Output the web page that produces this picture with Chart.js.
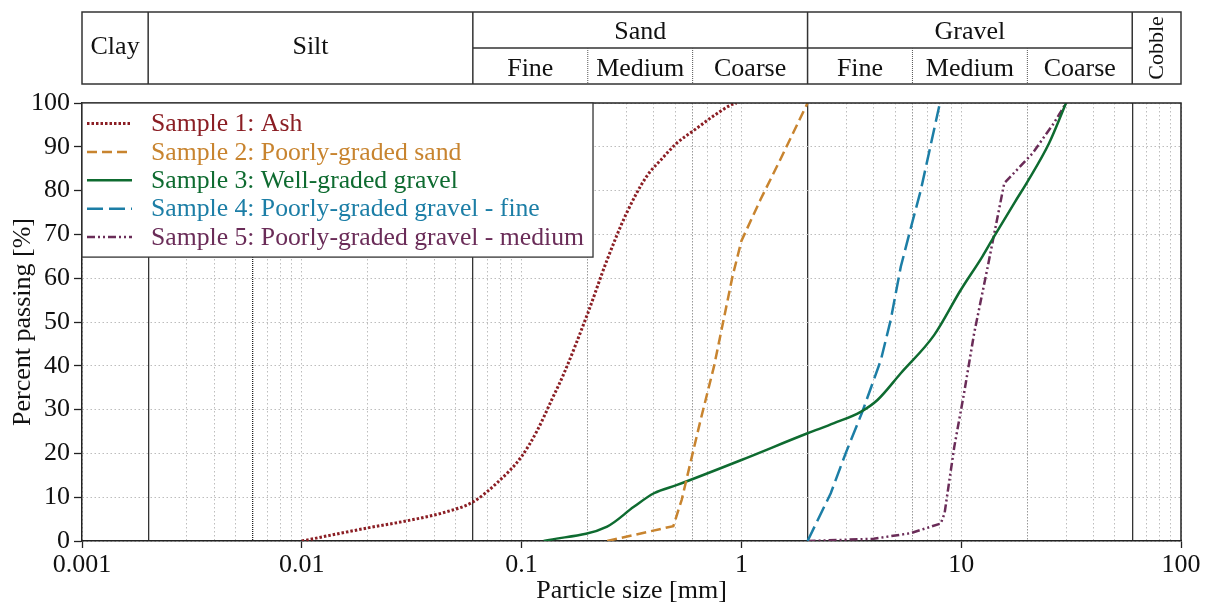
<!DOCTYPE html>
<html>
<head>
<meta charset="utf-8">
<script src="https://cdn.jsdelivr.net/npm/chart.js@4.4.1/dist/chart.umd.min.js"></script>
<style>
  html, body { margin: 0; padding: 0; background: #fff; }
  canvas { display: block; }
</style>
</head>
<body>
<canvas id="chart" width="1209" height="602"></canvas>
<script>
// axis ticks
const xTickValues = [0.001, 0.01, 0.1, 1, 10, 100];
const xTickLabels = ['0.001', '0.01', '0.1', '1', '10', '100'];

// grading curves (particle size in mm, percent passing)
const ashSize = [0.01, 0.02, 0.03, 0.045, 0.06, 0.077, 0.1, 0.118, 0.137, 0.156, 0.2, 0.245, 0.3, 0.37, 0.43, 0.51, 0.61, 0.74, 0.9, 0.95];
const ashPassing = [0, 3, 4.6, 6.6, 8.9, 13.2, 19.3, 25.3, 32.2, 38.3, 52, 64.2, 74.8, 83.2, 87, 90.9, 93.8, 96.9, 99.6, 100];

const sandSize = [0.245, 0.49, 0.535, 0.6, 0.652, 0.75, 0.83, 0.91, 1.0, 1.22, 1.5, 2.0];
const sandPassing = [0, 3.4, 9.4, 20, 27.6, 39.8, 50.5, 60.3, 68.5, 77.9, 87, 100];

const wellSize = [0.126, 0.245, 0.324, 0.4, 0.51, 1.0, 2.0, 2.64, 3.49, 4.16, 5.31, 7.53, 9.95, 12.5, 14.1, 17.6, 20, 25.1, 30];
const wellPassing = [0, 3.3, 7.8, 10.9, 12.8, 18.5, 24.6, 26.9, 29.5, 32.2, 38.3, 47, 57.3, 65, 69.5, 77.5, 82, 90.8, 100];

const fineSize = [2, 2.55, 2.98, 3.55, 4.31, 4.78, 5.31, 6.0, 6.55, 8.0];
const finePassing = [0, 10.9, 20, 29.5, 41.3, 50.5, 62.6, 72.9, 80.1, 100];

const mediumSize = [2, 4, 5.9, 8.07, 8.4, 9.3, 10.3, 11.45, 13.2, 14.1, 15.7, 17.6, 21.1, 26.4, 30];
const mediumPassing = [0, 0.5, 1.8, 4.0, 6.3, 21.5, 33.7, 47.4, 62.6, 69.9, 81.7, 84.3, 88.5, 95.4, 100];

const sampleLabels = [
  'Sample 1: Ash',
  'Sample 2: Poorly-graded sand',
  'Sample 3: Well-graded gravel',
  'Sample 4: Poorly-graded gravel - fine',
  'Sample 5: Poorly-graded gravel - medium'
];
const sampleColors = ['#8b1e24', '#c8842f', '#0e6b30', '#1c7ea6', '#6a2c58'];

// soil classification header
const soilGroups = ['Clay', 'Silt', 'Sand', 'Gravel', 'Cobble'];
const soilBounds = [0.001, 0.002, 0.06, 2, 60, 100];
const subLabels = ['Fine', 'Medium', 'Coarse'];
const sandBounds = [0.06, 0.2, 0.6, 2];
const gravelBounds = [2, 6, 20, 60];

const FONT = '"Liberation Serif", "Times New Roman", serif';
const FS = 26;
Chart.defaults.font.family = FONT;
Chart.defaults.color = '#111';

function toPoints(sizes, passing) {
    return sizes.map((s, i) => ({ x: s, y: passing[i] }));
}

function isAt(v, list) {
    return list.some(b => Math.abs(Math.log10(v) - Math.log10(b)) < 1e-4);
}

// every 1..9 x 10^k line of the log grid
const xGridValues = [];
for (let e = -3; e <= 1; ++e) {
    for (let m = 1; m <= 9; ++m) {
        xGridValues.push(Number((m * Math.pow(10, e)).toPrecision(3)));
    }
}
xGridValues.push(100);

const mainBounds = [0.002, 0.06, 2, 60];
const subBounds = [0.2, 0.6, 6, 20];

function gridKind(ctx) {
    const v = ctx.tick && ctx.tick.value;
    if (!v) return 'minor';
    if (isAt(v, mainBounds)) return 'main';
    if (isAt(v, [0.006])) return 'silt';
    if (isAt(v, subBounds)) return 'sub';
    return 'minor';
}

const framePlugin = {
    id: 'frame',
    afterDatasetsDraw(chart) {
        const { ctx, chartArea: a } = chart;
        ctx.save();
        ctx.strokeStyle = '#222';
        ctx.lineWidth = 1.5;
        ctx.beginPath();
        ctx.moveTo(a.left, a.top);
        ctx.lineTo(a.right, a.top);
        ctx.lineTo(a.right, a.bottom);
        ctx.stroke();
        ctx.restore();
    }
};

const legendPanel = {
    id: 'legendPanel',
    afterDraw(chart) {
        const { ctx, chartArea: a } = chart;
        const sets = chart.data.datasets;
        const rowH = 28.4;
        const firstRow = a.top + 20.5;
        const textX = a.left + 69;
        ctx.save();
        ctx.font = '25.7px ' + FONT;
        let maxW = 0;
        sets.forEach(ds => { maxW = Math.max(maxW, ctx.measureText(ds.label).width); });
        const right = textX + maxW + 9;
        const bottom = firstRow + rowH * (sets.length - 1) + 20;
        ctx.fillStyle = '#fff';
        ctx.fillRect(a.left, a.top, right - a.left, bottom - a.top);
        ctx.strokeStyle = '#333';
        ctx.lineWidth = 1.3;
        ctx.strokeRect(a.left, a.top, right - a.left, bottom - a.top);
        sets.forEach((ds, i) => {
            const y = firstRow + i * rowH;
            ctx.setLineDash(ds.borderDash || []);
            ctx.strokeStyle = ds.borderColor;
            ctx.lineWidth = ds.borderWidth;
            ctx.beginPath();
            ctx.moveTo(a.left + 5, y);
            ctx.lineTo(a.left + 50, y);
            ctx.stroke();
            ctx.setLineDash([]);
            ctx.fillStyle = ds.borderColor;
            ctx.textBaseline = 'middle';
            ctx.textAlign = 'left';
            ctx.fillText(ds.label, textX, y + 1);
        });
        ctx.restore();
    }
};

const soilHeader = {
    id: 'soilHeader',
    afterDraw(chart) {
        const ctx = chart.ctx;
        const sx = chart.scales.x;
        const px = v => sx.getPixelForValue(v);
        const top = 12, mid = 48, bottom = 84;
        ctx.save();
        ctx.strokeStyle = '#333';
        ctx.lineWidth = 1.5;
        ctx.strokeRect(px(soilBounds[0]), top, px(soilBounds[soilBounds.length - 1]) - px(soilBounds[0]), bottom - top);
        ctx.beginPath();
        soilBounds.slice(1, -1).forEach(b => {
            ctx.moveTo(px(b), top);
            ctx.lineTo(px(b), bottom);
        });
        ctx.moveTo(px(0.06), mid);
        ctx.lineTo(px(60), mid);
        ctx.stroke();

        ctx.setLineDash([1, 1]);
        ctx.lineWidth = 1;
        ctx.strokeStyle = '#555';
        ctx.beginPath();
        [sandBounds, gravelBounds].forEach(bs => {
            bs.slice(1, -1).forEach(b => {
                ctx.moveTo(px(b), mid);
                ctx.lineTo(px(b), bottom);
            });
        });
        ctx.stroke();
        ctx.setLineDash([]);

        ctx.fillStyle = '#111';
        ctx.font = FS + 'px ' + FONT;
        ctx.textAlign = 'center';
        ctx.textBaseline = 'middle';
        soilGroups.forEach((g, i) => {
            const cx = (px(soilBounds[i]) + px(soilBounds[i + 1])) / 2;
            if (g === 'Sand' || g === 'Gravel') {
                ctx.fillText(g, cx, 32);
                const bs = g === 'Sand' ? sandBounds : gravelBounds;
                subLabels.forEach((s, j) => {
                    ctx.fillText(s, (px(bs[j]) + px(bs[j + 1])) / 2, 69);
                });
            } else if (g === 'Cobble') {
                ctx.save();
                ctx.font = '22px ' + FONT;
                ctx.translate(cx, (top + bottom) / 2);
                ctx.rotate(-Math.PI / 2);
                ctx.fillText(g, 0, 1);
                ctx.restore();
            } else {
                ctx.fillText(g, cx, 47);
            }
        });
        ctx.restore();
    }
};

const styles = [
    { dash: [2.5, 2], width: 3, cubic: 'monotone' },
    { dash: [10, 5], width: 2.5, cubic: 'default' },
    { dash: [], width: 2.5, cubic: 'monotone' },
    { dash: [16, 6], width: 2.5, cubic: 'default' },
    { dash: [8, 3, 2, 3, 2, 3], width: 2.5, cubic: 'default' }
];
const series = [
    toPoints(ashSize, ashPassing),
    toPoints(sandSize, sandPassing),
    toPoints(wellSize, wellPassing),
    toPoints(fineSize, finePassing),
    toPoints(mediumSize, mediumPassing)
];

new Chart(document.getElementById('chart'), {
    type: 'line',
    data: {
        datasets: series.map((pts, i) => ({
            label: sampleLabels[i],
            data: pts,
            borderColor: sampleColors[i],
            backgroundColor: sampleColors[i],
            borderWidth: styles[i].width,
            borderDash: styles[i].dash,
            cubicInterpolationMode: styles[i].cubic,
            tension: 0,
            pointRadius: 0,
            fill: false
        }))
    },
    options: {
        responsive: false,
        animation: false,
        layout: { padding: { top: 103, right: 28, bottom: 0, left: 0 } },
        plugins: {
            legend: { display: false },
            tooltip: { enabled: false }
        },
        scales: {
            x: {
                type: 'logarithmic',
                min: 0.001,
                max: 100,
                afterBuildTicks: (scale) => {
                    scale.ticks = xGridValues.map(v => ({ value: v }));
                },
                afterFit: (scale) => { scale.height = 61; },
                ticks: {
                    autoSkip: false,
                    maxRotation: 0,
                    padding: 2,
                    font: { size: FS },
                    color: '#111',
                    callback: (value) => {
                        const i = xTickValues.findIndex(t => Math.abs(t - value) / t < 1e-6);
                        return i >= 0 ? xTickLabels[i] : '';
                    }
                },
                grid: {
                    tickLength: 7,
                    color: (ctx) => {
                        const k = gridKind(ctx);
                        if (k === 'main') return '#333';
                        if (k === 'silt') return '#222';
                        if (k === 'sub') return '#999';
                        return '#bdbdbd';
                    },
                    lineWidth: (ctx) => {
                        const k = gridKind(ctx);
                        return k === 'main' || k === 'silt' ? 1.3 : 1;
                    },
                    tickColor: (ctx) => {
                        const v = ctx.tick && ctx.tick.value;
                        return v && isAt(v, xTickValues) ? '#222' : 'rgba(0,0,0,0)';
                    },
                    tickWidth: 1.3
                },
                border: {
                    color: '#222',
                    width: 1.5,
                    dash: (ctx) => {
                        const k = gridKind(ctx);
                        if (k === 'main') return [];
                        if (k === 'silt') return [1, 1];
                        if (k === 'sub') return [1.5, 1.5];
                        return [1.5, 2.5];
                    }
                },
                title: {
                    display: true,
                    text: 'Particle size [mm]',
                    font: { size: FS },
                    color: '#111',
                    padding: { top: 0, bottom: -5 }
                }
            },
            y: {
                min: 0,
                max: 100,
                afterFit: (scale) => { scale.width = 82; },
                ticks: {
                    stepSize: 10,
                    padding: 4,
                    font: { size: FS },
                    color: '#111'
                },
                grid: {
                    tickLength: 8,
                    color: '#bdbdbd',
                    tickColor: '#222',
                    tickWidth: 1.3
                },
                border: {
                    color: '#222',
                    width: 1.5,
                    dash: [1.5, 2.5]
                },
                title: {
                    display: true,
                    text: 'Percent passing [%]',
                    font: { size: FS },
                    color: '#111',
                    padding: { top: 8, bottom: 0 }
                }
            }
        }
    },
    plugins: [framePlugin, legendPanel, soilHeader]
});
</script>
</body>
</html>
